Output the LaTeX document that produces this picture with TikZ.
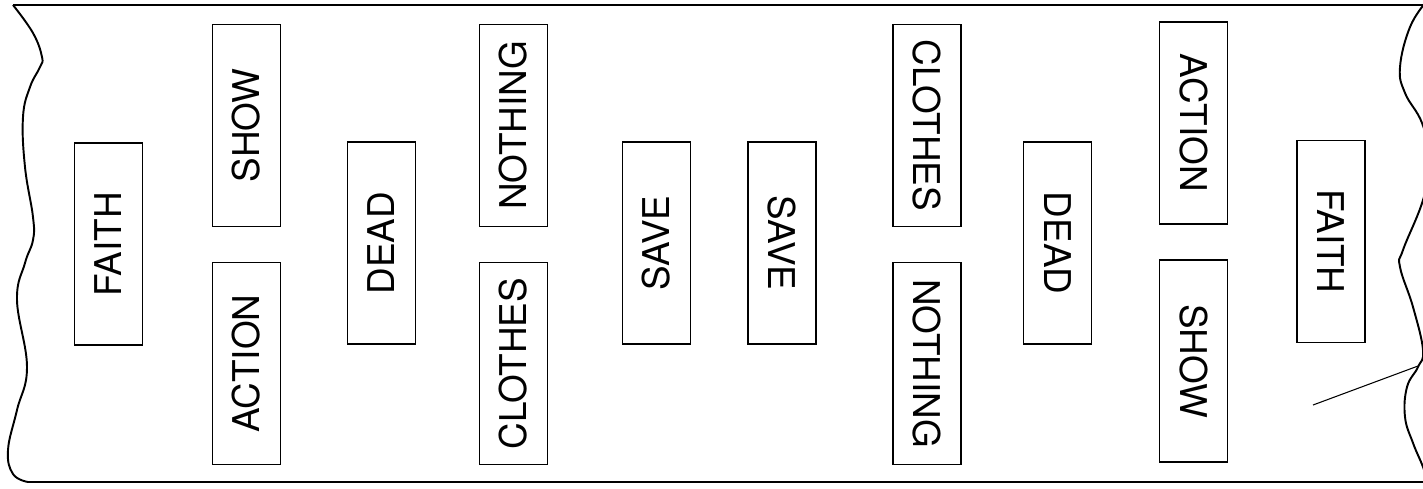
\documentclass[tikz,border=0pt]{standalone}
\usepackage{fontspec}
\setmainfont{TeX Gyre Heros}
\usepackage{tikz}

\tikzset{
  wordbox/.style={draw, line width=1.1pt, minimum width=4.04cm, minimum height=1.36cm,
    inner sep=0pt, font=\fontsize{21}{25}\selectfont},
  upword/.style={wordbox, rotate=90},
  downword/.style={wordbox, rotate=-90},
  scrollline/.style={line width=1.1pt}
}

\begin{document}
\begin{tikzpicture}[x=0.02cm, y=-0.02cm]
\useasboundingbox (0,0) rectangle (1423,488);
\clip (0,0) rectangle (1423,488);
% scroll outline
\draw[scrollline] (13,5) -- (1440,5);
\draw[scrollline] (28,482) -- (1440,482);
\draw[scrollline] plot[smooth, tension=0.7] coordinates {(13,5) (33,33) (42,57) (40,67) (30,87) (23,117) (25,167) (33,217) (33,240) (25,263) (17,300) (27,367) (17,410) (8,450) (13,474) (28,482)};
\draw[scrollline] plot[smooth, tension=0.7] coordinates {(1426,2) (1410,27) (1400,67) (1405,93) (1422,123) (1430,160) (1423,200) (1403,250) (1400,267) (1413,307) (1423,350) (1418,367) (1407,387) (1405,417) (1413,443) (1423,467) (1428,484)};
% left half, read upwards
\node[upword] (faithL) at (108.5,244) {FAITH};
\node[upword] (showL) at (246.5,125.5) {SHOW};
\node[upword] (actionL) at (246.5,363.5) {ACTION};
\node[upword] (deadL) at (381.5,243) {DEAD};
\node[upword] (nothingL) at (513.5,125.5) {NOTHING};
\node[upword] (clothesL) at (513.5,363.5) {CLOTHES};
\node[upword] (saveL) at (656.5,243) {SAVE};
% right half, read downwards
\node[downword] (saveR) at (782,243) {SAVE};
\node[downword] (clothesR) at (927,125.5) {CLOTHES};
\node[downword] (nothingR) at (927,363.5) {NOTHING};
\node[downword] (deadR) at (1057.5,243) {DEAD};
\node[downword] (actionR) at (1193.5,123) {ACTION};
\node[downword] (showR) at (1193.5,361) {SHOW};
\node[downword] (faithR) at (1331,241.5) {FAITH};
% pointer to the edge
\coordinate (ptail) at (1313,405);
\coordinate (ptip) at (1418,366);
\draw[line width=0.6pt] (ptail) -- (ptip);
\end{tikzpicture}
\end{document}
